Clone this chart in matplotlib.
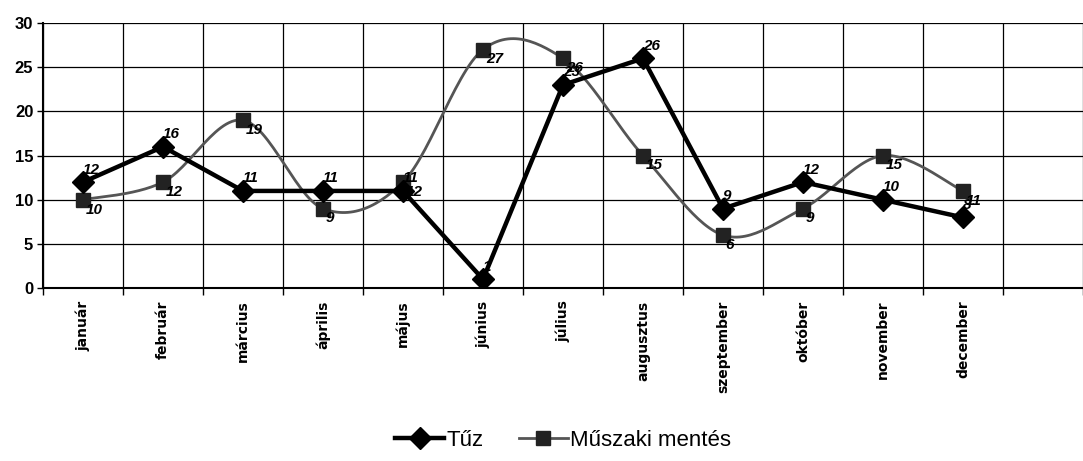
import numpy as np
import matplotlib
matplotlib.use("Agg")
import matplotlib.pyplot as plt
from matplotlib.lines import Line2D

# data
months = ['január', 'február', 'március', 'április', 'május', 'június',
          'július', 'augusztus', 'szeptember', 'október', 'november', 'december']
tuz = [12, 16, 11, 11, 11, 1, 23, 26, 9, 12, 10, 8]
muszaki = [10, 12, 19, 9, 12, 27, 26, 15, 6, 9, 15, 11]
series_names = ['Tűz', 'Műszaki mentés']
yticks = [0, 5, 10, 15, 20, 25, 30]


def smooth(x, y, n=30):
    # Excel style smoothed line (bezier through the points)
    x = np.asarray(x, float)
    y = np.asarray(y, float)
    pts = np.column_stack([x, y])
    ext = np.vstack([pts[0], pts, pts[-1]])
    out = []
    t = np.linspace(0, 1, n)[:, None]
    for i in range(len(pts) - 1):
        p0 = ext[i + 1]
        p3 = ext[i + 2]
        c1 = p0 + (ext[i + 2] - ext[i]) / 6
        c2 = p3 - (ext[i + 3] - ext[i + 1]) / 6
        seg = ((1 - t) ** 3) * p0 + 3 * ((1 - t) ** 2) * t * c1 + 3 * (1 - t) * t ** 2 * c2 + t ** 3 * p3
        out.append(seg)
    out = np.vstack(out)
    return out[:, 0], out[:, 1]


fig = plt.figure(figsize=(10.83, 4.61), dpi=100)
ax = fig.add_axes([0.0397, 0.375, 0.9603, 0.575])

x = np.arange(len(months))

sx, sy = smooth(x, muszaki)
ax.plot(sx, sy, color='#555555', lw=2.0, zorder=3)
ax.plot(x, muszaki, ls='none', marker='s', ms=10, color='#222222', zorder=4)
ax.plot(x, tuz, color='black', lw=3.2, marker='D', ms=11, zorder=5)

for xi, v in zip(x, tuz):
    ax.annotate(str(v), (xi, v), xytext=(0, 4), textcoords='offset points',
                ha='left', va='bottom', fontsize=11, fontweight='bold',
                style='italic', family='Liberation Sans', zorder=6)
for xi, v in zip(x, muszaki):
    ax.annotate(str(v), (xi, v), xytext=(2, -2), textcoords='offset points',
                ha='left', va='top', fontsize=11, fontweight='bold',
                style='italic', family='Liberation Sans', zorder=6)

ax.set_xlim(-0.5, 12.38)
ax.set_ylim(0, 30)
ax.set_yticks(yticks)
ax.set_yticklabels([str(v) for v in yticks], fontsize=12, fontweight='bold',
                   family='Liberation Sans')
ax.set_xticks(x)
ax.set_xticklabels(months, rotation=90, fontsize=10, fontweight='bold',
                   family='DejaVu Sans', va='top')
ax.set_xticks(np.arange(-0.5, 13, 1), minor=True)
ax.tick_params(axis='x', which='major', length=0, pad=9)
ax.tick_params(axis='x', which='minor', length=5, width=1, color='black')
ax.tick_params(axis='y', length=4, width=1, pad=3)

ax.grid(True, which='minor', axis='x', color='black', lw=0.9)
ax.grid(True, which='major', axis='y', color='black', lw=0.9)
ax.set_axisbelow(True)
for s in ['top', 'right']:
    ax.spines[s].set_visible(False)
ax.spines['left'].set_linewidth(1.5)
ax.spines['bottom'].set_linewidth(1.5)

handles = [
    Line2D([], [], color='black', lw=3.2, marker='D', ms=11),
    Line2D([], [], color='#555555', lw=2.0, marker='s', ms=10, mfc='#222222', mec='#222222'),
]
fig.legend(handles, series_names, loc='center', bbox_to_anchor=(0.52, 0.045),
           ncol=2, frameon=False, handlelength=2.2, handletextpad=0.1,
           columnspacing=1.6,
           prop={'family': 'Liberation Sans', 'size': 16})

fig.savefig('out.png', dpi=100)
